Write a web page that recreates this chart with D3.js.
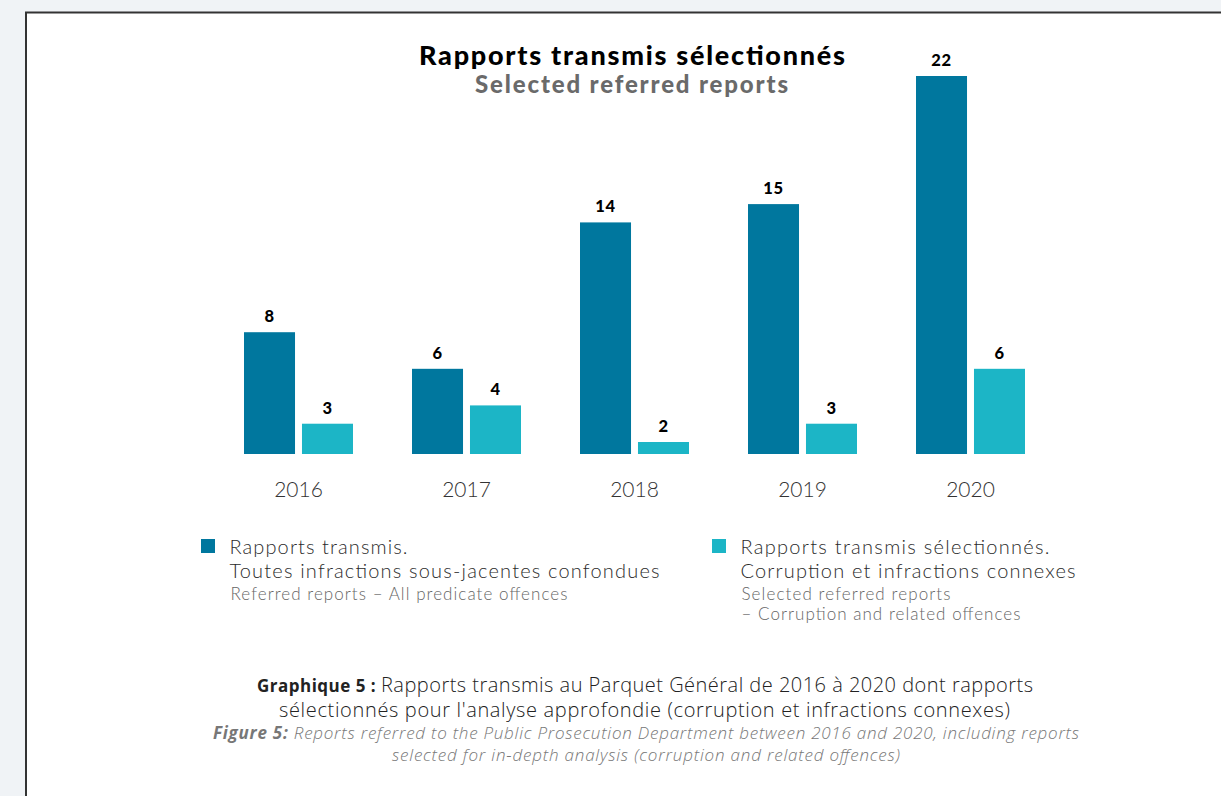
<!DOCTYPE html>
<html>
<head>
<meta charset="utf-8">
<script src="https://cdn.jsdelivr.net/npm/d3@7"></script>
<style>
  html, body { margin: 0; padding: 0; background: #f0f3f6; }
  svg { display: block; }
</style>
</head>
<body>
<svg id="chart" width="1221" height="796"></svg>
<script>
// Referred reports per year
const years = ["2016", "2017", "2018", "2019", "2020"];
const referred = [8, 6, 14, 15, 22];
const selected = [3, 4, 2, 3, 6];
const seriesNames = ["referred", "selected"];
const seriesColors = ["#00779e", "#1cb5c6"];

const svg = d3.select("#chart");
const W = 1221, H = 796;
const FONT = "Lato, 'Noto Sans', sans-serif";

// Helper: text line stretched to a given run length
function line(parent, x, y, str, len, opts) {
  const t = parent.append("text")
    .attr("x", x).attr("y", y)
    .attr("text-anchor", opts.anchor || "start")
    .style("font-family", opts.family || FONT)
    .style("font-weight", opts.weight || 400)
    .style("font-size", opts.size + "px")
    .style("font-style", opts.style || "normal")
    .attr("fill", opts.fill || "#000");
  if (str != null) t.text(str);
  if (len) t.attr("textLength", len).attr("lengthAdjust", "spacing");
  return t;
}

// White panel with dark frame
svg.append("rect")
  .attr("x", 26).attr("y", 12.5)
  .attr("width", W).attr("height", H)
  .attr("fill", "#ffffff")
  .attr("stroke", "#333333")
  .attr("stroke-width", 2);

// Titles
line(svg, 632, 65, "Rapports transmis sélectionnés", 426, { anchor: "middle", weight: 900, size: 27, fill: "#000" });
line(svg, 631.5, 93, "Selected referred reports", 313, { anchor: "middle", weight: 900, size: 24, fill: "#6a6a6a" });

// Scales
const baseY = 454;
const x0 = d3.scaleBand().domain(years).range([216, 1056]).paddingInner(0).paddingOuter(0);
const x1 = d3.scaleBand().domain(seriesNames).range([28, 137]).paddingInner(0.12);
const y = d3.scaleLinear().domain([1.345, 22]).range([baseY, 76]);

const rows = years.map((yr, i) => ({ year: yr, values: [referred[i], selected[i]] }));

const groups = svg.append("g").selectAll("g")
  .data(rows).join("g")
  .attr("transform", d => `translate(${x0(d.year)},0)`);

groups.selectAll("rect")
  .data(d => d.values.map((v, j) => ({ key: seriesNames[j], v, j })))
  .join("rect")
  .attr("x", d => x1(d.key))
  .attr("width", x1.bandwidth())
  .attr("y", d => y(d.v))
  .attr("height", d => baseY - y(d.v))
  .attr("fill", d => seriesColors[d.j]);

groups.selectAll("text.val")
  .data(d => d.values.map((v, j) => ({ key: seriesNames[j], v, j })))
  .join("text")
  .attr("class", "val")
  .attr("x", d => x1(d.key) + x1.bandwidth() / 2)
  .attr("y", d => y(d.v) - 10)
  .attr("text-anchor", "middle")
  .style("font-family", FONT)
  .style("font-weight", 900)
  .style("font-size", "16.5px")
  .style("letter-spacing", "0.6px")
  .attr("fill", "#000")
  .text(d => d.v);

// Year axis
const xAxis = d3.axisBottom(x0).tickSize(0).tickPadding(0);
const axisG = svg.append("g")
  .attr("transform", `translate(${-x0.bandwidth() / 2 + (x1.range()[0] + x1.range()[1]) / 2},${baseY + 43})`)
  .call(xAxis);
axisG.select(".domain").remove();
axisG.selectAll("text")
  .attr("dy", 0)
  .style("font-family", FONT)
  .style("font-weight", 300)
  .style("font-size", "21px")
  .attr("fill", "#333");

// Legend
const legend = [
  { color: seriesColors[0], x: 201,
    main: [["Rapports transmis.", 178], ["Toutes infractions sous-jacentes confondues", 430]],
    sub: [["Referred reports – All predicate offences", 337]] },
  { color: seriesColors[1], x: 712,
    main: [["Rapports transmis sélectionnés.", 309], ["Corruption et infractions connexes", 335]],
    sub: [["Selected referred reports", 209], ["– Corruption and related offences", 279]] }
];
const lg = svg.append("g").selectAll("g").data(legend).join("g");
lg.append("rect")
  .attr("x", d => d.x).attr("y", 539)
  .attr("width", 14).attr("height", 14)
  .attr("fill", d => d.color);
lg.each(function (d) {
  const g = d3.select(this);
  d.main.forEach(([t, len], i) => {
    line(g, d.x + 28.5, 554 + i * 23.5, t, len, { weight: 300, size: 20, fill: "#2b2b2b" });
  });
  d.sub.forEach(([t, len], i) => {
    line(g, d.x + 29.5, 600 + i * 20, t, len, { weight: 300, size: 17, fill: "#666" });
  });
});

// Caption
const CAP = "'Open Sans', Lato, sans-serif";
const c1 = line(svg, 645, 692, null, 776, { anchor: "middle", family: CAP, size: 20, fill: "#222" });
c1.append("tspan").style("font-weight", 700).style("font-size", "17px").text("Graphique 5 : ");
c1.append("tspan").style("font-weight", 300).text("Rapports transmis au Parquet Général de 2016 à 2020 dont rapports");
line(svg, 644.5, 717, "sélectionnés pour l'analyse approfondie (corruption et infractions connexes)", 731,
  { anchor: "middle", family: CAP, size: 20, weight: 300, fill: "#222" });
const c3 = line(svg, 646, 739, null, 866, { anchor: "middle", family: CAP, size: 17, style: "italic", fill: "#777" });
c3.append("tspan").style("font-weight", 700).text("Figure 5: ");
c3.append("tspan").style("font-weight", 300).text("Reports referred to the Public Prosecution Department between 2016 and 2020, including reports");
line(svg, 646, 761, "selected for in-depth analysis (corruption and related offences)", 508,
  { anchor: "middle", family: CAP, size: 17, style: "italic", weight: 300, fill: "#777" });
</script>
</body>
</html>
